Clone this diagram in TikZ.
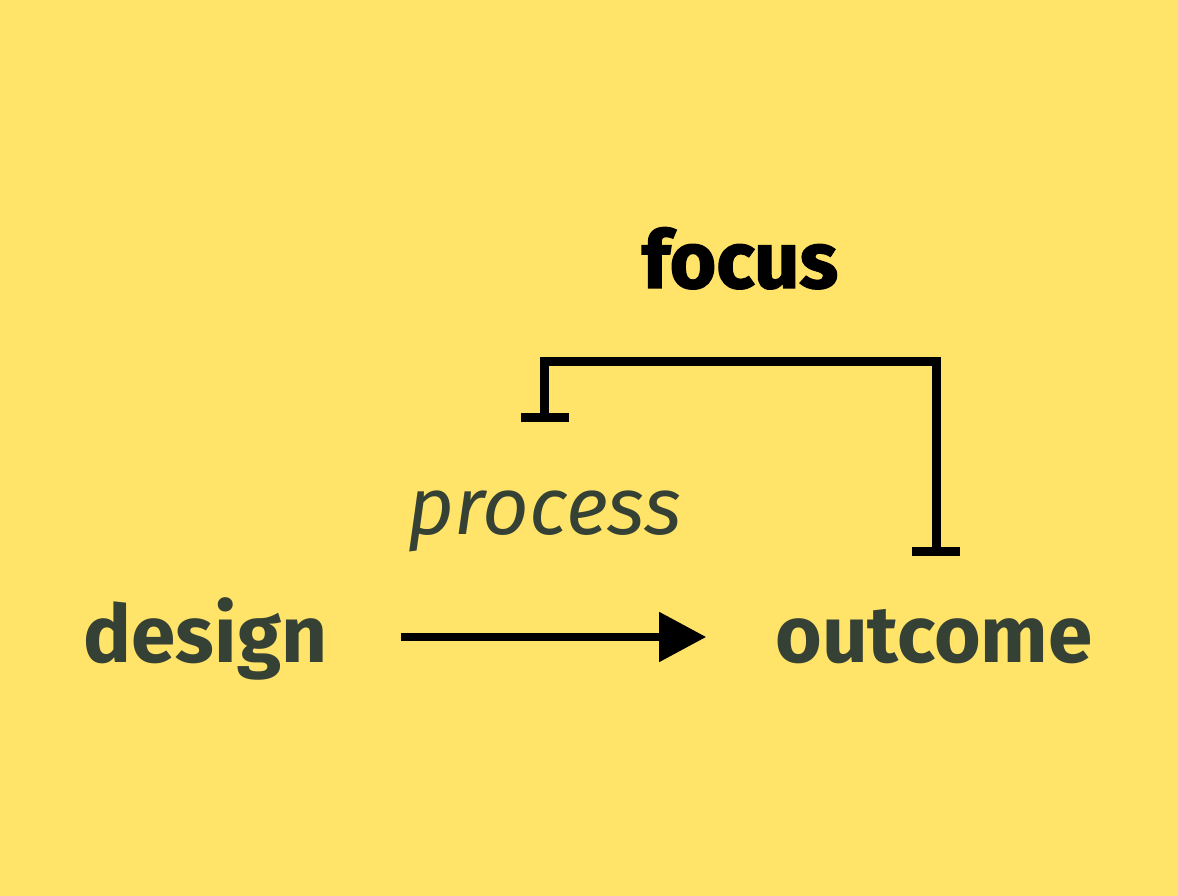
\documentclass[tikz,border=0pt]{standalone}
\usepackage{fontspec}
\setmainfont{Fira Sans}
\newfontfamily\heavyfont[FakeBold=1.6]{Fira Sans}
\usetikzlibrary{arrows.meta,calc}
\definecolor{bgyellow}{HTML}{FFE469}
\definecolor{inkgreen}{HTML}{364135}
\begin{document}
\begin{tikzpicture}[x=1pt,y=1pt,
  word/.style={inner sep=0pt,text height=60pt,text depth=8pt,text=inkgreen,font=\fontsize{80}{90}\selectfont\bfseries},
  flow/.style={line width=8pt,-{Triangle[length=47pt,width=48pt]}},
  focusline/.style={line width=9pt,{Bar[width=48pt]}-{Bar[width=48pt]}}]
\fill[bgyellow] (0,0) rectangle (1178,896);
\node[inner sep=0pt,anchor=base,font=\fontsize{80}{90}\heavyfont\bfseries] (focus) at (740,608) {focus};
\node[inner sep=0pt,anchor=base,text height=43pt,text=inkgreen,font=\fontsize{81}{90}\selectfont\itshape] (process) at (544.5,361) {process};
\node[word] (design) at (205.5,259) {design};
\node[word] (outcome) at (934,259) {outcome};
\coordinate (focustop) at ($(focus.base)+(0,-74)$);

\draw[flow,shorten <=73pt,shorten >=69pt] (design.east) -- (outcome.west);
\draw[focusline] ($(outcome.north)+(2,47)$) |- (focustop -| process.north) -- ($(process.north)+(0,70)$);
\end{tikzpicture}
\end{document}
